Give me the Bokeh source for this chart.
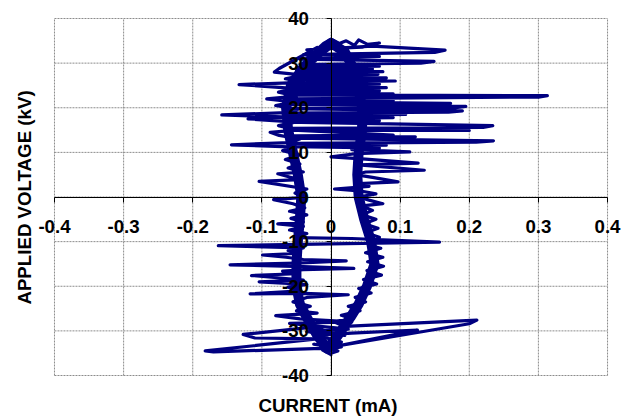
from bokeh.plotting import figure
from bokeh.models import Range1d, FixedTicker, Title
from bokeh.embed import file_html
from bokeh.resources import INLINE

# ---- data (current in mA, applied voltage in kV) ----
# thick core of the Lissajous loop (left branch upward, right branch downward)
band_current = [
    -0.005, -0.02, -0.035, -0.045, -0.05, -0.05, -0.048, -0.045, -0.043, -0.048,
    -0.055, -0.062, -0.065, -0.058, -0.04, -0.02, 0.0,
    0.02, 0.035, 0.04, 0.045, 0.045, 0.04, 0.038, 0.04, 0.048,
    0.058, 0.063, 0.052, 0.04, 0.028, 0.01, -0.005,
]
band_voltage = [
    -34.0, -31.0, -27.0, -24.0, -20.0, -15.0, -10.0, -5.0, 0.0, 5.0,
    10.0, 15.0, 20.0, 25.0, 29.0, 32.0, 34.5,
    32.5, 28.0, 24.0, 20.0, 15.0, 10.0, 5.0, 0.0, -5.0,
    -10.0, -15.0, -20.0, -24.0, -27.0, -31.0, -34.0,
]

# full trace with its discharge spikes
current_ma = [
    # bottom, lower-left loops, rising left branch
    0.002, -0.012, 0.015, -0.025, 0.008, -0.17, -0.182, -0.02, -0.11, -0.127,
    -0.03, 0.02, -0.035, 0.025, -0.06, 0.03, -0.045, -0.08, -0.02, -0.05,
    -0.03, -0.055, -0.035, 0.025, -0.04, -0.117, -0.05, -0.062, -0.035, -0.104,
    -0.04, -0.115, -0.05, -0.07, -0.04, 0.033, -0.04, -0.146, -0.05, 0.022,
    -0.04, -0.065, -0.099, -0.045, -0.062, -0.04, -0.163, 0.157, 0.03, -0.05,
    -0.035, -0.06, -0.04, -0.077, -0.04, -0.058, -0.035, -0.06, -0.038, -0.055,
    -0.083, -0.04, -0.052, -0.035, -0.104, -0.045, -0.06, -0.077, -0.04, -0.062,
    -0.045, -0.066, -0.045, -0.07, -0.05, -0.144, -0.06, -0.045, -0.075, -0.088,
    -0.05, -0.076, -0.05, -0.12, -0.06, -0.158, -0.065, -0.048, -0.08, -0.055,
    -0.093, -0.05, -0.076, -0.05, -0.133, -0.04, -0.066, -0.04, -0.082, -0.075,
    # top cap
    -0.02, -0.035, -0.01, 0.0, 0.012, 0.022, 0.034, 0.04, 0.053, 0.07,
    0.045, -0.035, 0.06,
    # falling: right-hand spikes
    0.165, 0.15, -0.04, 0.07, -0.045, 0.149, 0.13, -0.045, 0.07, -0.05,
    0.06, -0.05, 0.075, -0.05, 0.068, -0.055, 0.08, -0.055, 0.093, -0.055,
    0.07, -0.06, 0.08, -0.06, 0.07, -0.06, 0.09, -0.055, 0.313, 0.30,
    -0.06, 0.09, -0.06, 0.173, -0.06, 0.195, 0.18, -0.065, 0.19, 0.17,
    -0.065, 0.108, -0.065, 0.09, -0.065, 0.07, -0.065, 0.234, 0.22, -0.06,
    0.2, -0.055, 0.09, -0.055, 0.122, -0.055, 0.235, 0.21, -0.055, 0.08,
    -0.055, 0.07, 0.03, 0.114, 0.035, 0.0, 0.05, 0.126, 0.04, 0.135,
    0.05, 0.035, 0.06, 0.097, 0.04, 0.055, 0.005, 0.045, 0.065, 0.04,
    # falling right branch
    0.055, 0.075, 0.045, 0.06, 0.045, 0.065, 0.048, 0.068, 0.05, 0.07,
    0.055, 0.072, 0.05, 0.075, 0.053, 0.076, 0.052, 0.073, 0.047, 0.066,
    0.04, 0.058, 0.035, 0.05, 0.025, 0.042, 0.015, 0.03, 0.005, 0.02,
    # lower-right loops and bottom
    0.211, 0.2, 0.005, 0.125, 0.03, -0.02, 0.015, -0.015, 0.01, 0.0,
]
voltage_kv = [
    # bottom, lower-left loops, rising left branch
    -35.5, -34.3, -33.6, -33.0, -33.8, -34.7, -34.5, -31.8, -31.6, -30.8,
    -29.2, -31.0, -30.2, -29.6, -28.3, -28.0, -27.3, -26.6, -26.0, -25.5,
    -24.5, -23.5, -22.5, -21.9, -21.6, -21.7, -21.1, -20.2, -19.6, -19.0,
    -18.6, -17.6, -17.2, -16.6, -16.3, -16.0, -15.6, -15.2, -14.8, -14.3,
    -14.0, -13.5, -13.0, -12.6, -12.0, -11.4, -10.9, -10.1, -9.3, -9.1,
    -8.2, -7.4, -6.6, -6.0, -5.6, -4.8, -4.0, -3.2, -2.4, -1.5,
    -0.6, -0.1, 0.9, 1.8, 3.5, 3.9, 4.5, 5.2, 5.6, 6.5,
    7.4, 8.4, 9.4, 10.4, 11.2, 11.7, 12.2, 13.0, 13.8, 14.5,
    15.0, 16.0, 16.8, 17.5, 17.9, 18.4, 18.9, 19.6, 20.5, 21.3,
    22.0, 22.6, 23.5, 24.3, 25.2, 25.7, 26.5, 27.3, 28.0, 28.8,
    # top cap
    33.5, 31.0, 34.5, 35.4, 34.4, 35.0, 34.0, 35.2, 34.2, 34.5,
    33.6, 33.0, 33.8,
    # falling: right-hand spikes
    32.9, 32.4, 31.9, 31.5, 30.9, 30.4, 30.0, 29.7, 29.3, 29.0,
    28.7, 28.4, 28.1, 27.8, 27.5, 27.2, 26.7, 26.4, 26.0, 25.6,
    25.3, 24.9, 24.5, 24.1, 23.8, 23.4, 23.1, 22.9, 22.7, 22.4,
    22.0, 21.6, 21.3, 21.0, 20.7, 20.3, 20.0, 19.8, 19.3, 19.0,
    18.8, 18.5, 18.2, 17.8, 17.5, 17.1, 16.8, 16.0, 15.6, 15.4,
    14.9, 15.0, 13.9, 13.7, 13.5, 13.2, 12.6, 12.3, 12.0, 11.6,
    11.3, 11.0, 10.6, 10.1, 9.7, 9.0, 8.5, 7.6, 7.2, 6.0,
    5.6, 5.0, 4.4, 3.4, 3.0, 2.4, 1.8, 1.3, 0.7, 0.0,
    # falling right branch
    -0.7, -1.5, -2.0, -3.0, -4.0, -5.0, -6.0, -7.0, -8.0, -9.0,
    -10.8, -11.5, -12.5, -13.5, -14.5, -15.5, -16.5, -17.5, -18.5, -19.5,
    -20.5, -21.5, -22.5, -23.5, -24.5, -25.5, -26.5, -27.3, -28.0, -29.0,
    # lower-right loops and bottom
    -27.6, -28.4, -33.5, -29.8, -30.5, -31.0, -32.5, -33.5, -34.5, -35.0,
]

x_ticks = [-0.4, -0.3, -0.2, -0.1, 0.0, 0.1, 0.2, 0.3, 0.4]
x_tick_labels = ["-0.4", "-0.3", "-0.2", "-0.1", "0", "0.1", "0.2", "0.3", "0.4"]
y_ticks = [-40, -30, -20, -10, 0, 10, 20, 30, 40]
y_tick_labels = ["-40", "-30", "-20", "-10", "0", "10", "20", "30", "40"]

FONT = "Liberation Sans"
GRID = "#8c8c8c"
NAVY = "#000080"

xmin, xmax = x_ticks[0], x_ticks[-1]
ymin, ymax = y_ticks[0], y_ticks[-1]

# the frame is a little larger than the gridded box so the end labels show
p = figure(width=621, height=418,
           x_range=Range1d(xmin - 0.0289, xmax + 0.0202),
           y_range=Range1d(ymin - 3.36, ymax + 3.14),
           output_backend="svg", toolbar_location=None,
           min_border_left=34, min_border_right=0,
           min_border_top=4, min_border_bottom=28)
p.background_fill_color = "white"
p.border_fill_color = "white"
p.outline_line_color = None
p.grid.visible = False

# grid lines (they also form the box)
p.segment(x0=x_ticks, y0=[ymin] * len(x_ticks), x1=x_ticks, y1=[ymax] * len(x_ticks),
          line_color=GRID, line_width=1, line_dash="2 1")
p.segment(x0=[xmin] * len(y_ticks), y0=y_ticks, x1=[xmax] * len(y_ticks), y1=y_ticks,
          line_color=GRID, line_width=1, line_dash="2 1")

p.line(band_current, band_voltage, line_color=NAVY, line_width=10,
       line_join="round", line_cap="round")
p.line(current_ma, voltage_kv, line_color=NAVY, line_width=3.2,
       line_join="round")

for ax, ticks, labels in ((p.xaxis, x_ticks, x_tick_labels),
                          (p.yaxis, y_ticks, y_tick_labels)):
    ax.fixed_location = 0
    ax.bounds = (ticks[0], ticks[-1])
    ax.ticker = FixedTicker(ticks=ticks)
    ax.major_label_overrides = {t: l for t, l in zip(ticks, labels)}
    ax.axis_line_color = "black"
    ax.axis_line_width = 1
    ax.major_tick_in = 0
    ax.major_tick_out = 5
    ax.major_tick_line_color = "black"
    ax.minor_tick_line_color = None
    ax.major_label_text_font = FONT
    ax.major_label_text_font_style = "bold"
    ax.major_label_text_font_size = "18.7px"
    ax.major_label_text_color = "black"
p.xaxis.major_label_standoff = 18
p.yaxis.major_label_standoff = 17

p.add_layout(Title(text="CURRENT (mA)", align="center", text_font=FONT,
                   text_font_size="18.7px", text_font_style="bold",
                   text_color="black", standoff=4, offset=0), "below")
p.add_layout(Title(text="APPLIED VOLTAGE (kV)", align="center", text_font=FONT,
                   text_font_size="18.7px", text_font_style="bold",
                   text_color="black", standoff=0, offset=0), "left")

open("out.html", "w").write(file_html(p, INLINE))
